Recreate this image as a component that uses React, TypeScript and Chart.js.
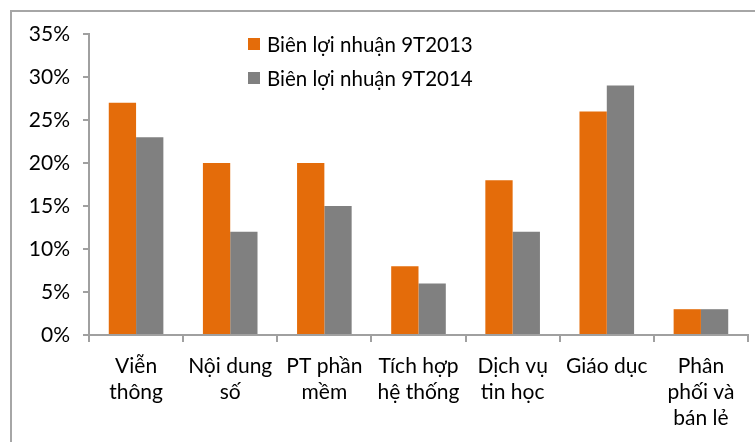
import React, { useEffect, useRef } from "react";
import { Chart, registerables } from "chart.js";

Chart.register(...registerables);

const categories: string[][] = [
  ["Viễn", "thông"],
  ["Nội dung", "số"],
  ["PT phần", "mềm"],
  ["Tích hợp", "hệ thống"],
  ["Dịch vụ", "tin học"],
  ["Giáo dục"],
  ["Phân", "phối và", "bán lẻ"],
];
const series2013Label = "Biên lợi nhuận 9T2013";
const series2014Label = "Biên lợi nhuận 9T2014";
const values2013 = [27, 20, 20, 8, 18, 26, 3];
const values2014 = [23, 12, 15, 6, 12, 29, 3];

const ORANGE = "#E46C0A";
const GRAY = "#808080";
const AXIS = "#a0a0a0";
const FONT = "Lato, 'Liberation Sans', sans-serif";

const legendPlugin = {
  id: "innerLegend",
  afterDraw(chart: any) {
    const ctx = chart.ctx;
    const items = chart.data.datasets.map((d: any) => ({ label: d.label, color: d.backgroundColor }));
    ctx.save();
    ctx.font = `20.5px ${FONT}`;
    ctx.textBaseline = "middle";
    ctx.textAlign = "left";
    items.forEach((it: any, i: number) => {
      const cy = 44 + i * 34;
      ctx.fillStyle = it.color;
      ctx.fillRect(248, cy - 6, 12, 12);
      ctx.fillStyle = "#000";
      ctx.fillText(it.label, 267, cy + 1);
    });
    ctx.restore();
  },
};

export default function App() {
  const ref = useRef<HTMLCanvasElement | null>(null);
  useEffect(() => {
    if (!ref.current) return;
    const chart = new Chart(ref.current, {
      type: "bar",
      data: {
        labels: categories,
        datasets: [
          { label: series2013Label, data: values2013, backgroundColor: ORANGE, categoryPercentage: 0.58, barPercentage: 1.0 },
          { label: series2014Label, data: values2014, backgroundColor: GRAY, categoryPercentage: 0.58, barPercentage: 1.0 },
        ],
      },
      options: {
        animation: false,
        responsive: false,
        maintainAspectRatio: false,
        layout: { padding: { top: 34, right: 7, left: 0, bottom: 0 } },
        plugins: { legend: { display: false }, tooltip: { enabled: false } },
        scales: {
          x: {
            grid: { display: true, drawOnChartArea: false, drawTicks: true, tickLength: 7, color: AXIS, lineWidth: 2, offset: true },
            border: { display: true, color: AXIS, width: 2 },
            ticks: { color: "#000", font: { family: FONT, size: 21, lineHeight: 1.25 }, padding: 11, maxRotation: 0, autoSkip: false },
            afterFit(scale: any) { scale.height = 442 - 335; },
          },
          y: {
            min: 0,
            max: 35,
            grid: { display: true, drawOnChartArea: false, drawTicks: true, tickLength: 6, color: AXIS, lineWidth: 2 },
            border: { display: true, color: AXIS, width: 2 },
            ticks: {
              stepSize: 5,
              color: "#000",
              font: { family: FONT, size: 21 },
              padding: 13,
              callback: (v: any) => `${v}%`,
            },
            afterFit(scale: any) { scale.width = 89; },
          },
        },
      },
      plugins: [legendPlugin],
    });
    return () => chart.destroy();
  }, []);
  return (
    <div style={{ position: "fixed", left: 0, top: 0, width: 755, height: 442, overflow: "hidden", background: "#fff" }}>
      <div style={{ position: "absolute", left: 10, top: 10, width: 800, height: 500, borderTop: "2px solid #a6a6a6", borderLeft: "2px solid #a6a6a6" }} />
      <canvas ref={ref} width={755} height={442} style={{ position: "absolute", left: 0, top: 0 }} />
    </div>
  );
}
